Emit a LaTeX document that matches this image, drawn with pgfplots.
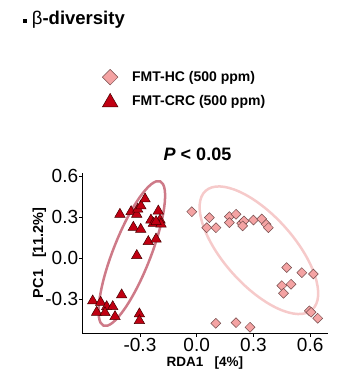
\documentclass[border=0pt]{standalone}
\usepackage{pgfplots}
\pgfplotsset{compat=1.18}
\usepackage{fontspec}
\setmainfont{Liberation Sans}
\definecolor{crcfill}{RGB}{192,0,18}
\definecolor{crcdraw}{RGB}{70,0,0}
\definecolor{hcfill}{RGB}{244,163,163}
\definecolor{hcdraw}{RGB}{115,75,75}
\definecolor{ellcrc}{RGB}{206,122,136}
\definecolor{ellhc}{RGB}{246,202,202}

\pgfplotsset{
  hcleg/.style={legend image code/.code={\path[draw=none,fill=none] (0pt,-3pt) rectangle (30pt,12pt); \draw[##1, mark size=5.5pt] plot coordinates {(8pt,4.5pt)};}},
  crcleg/.style={legend image code/.code={\path[draw=none,fill=none] (0pt,-3pt) rectangle (30pt,12pt); \draw[##1, mark size=9pt] plot coordinates {(8pt,3pt)};}},
}

\pgfplotstableread{
x y
-0.406 0.322
-0.347 0.341
-0.317 0.322
-0.312 0.359
-0.295 0.383
-0.273 0.434
-0.335 0.227
-0.296 0.212
-0.242 0.280
-0.229 0.256
-0.203 0.346
-0.194 0.280
-0.189 0.251
-0.215 0.268
-0.256 0.122
-0.215 0.141
-0.317 0.020
-0.397 -0.268
-0.550 -0.312
-0.508 -0.322
-0.529 -0.395
-0.476 -0.354
-0.444 -0.354
-0.485 -0.398
-0.432 -0.427
-0.303 -0.407
-0.303 -0.456
}\crc

\pgfplotstableread{
x y
-0.026 0.341
0.067 0.298
0.053 0.224
0.102 0.224
0.173 0.305
0.208 0.322
0.173 0.261
0.238 0.256
0.250 0.273
0.243 0.237
0.300 0.280
0.344 0.288
0.367 0.249
0.379 0.224
0.476 -0.068
0.556 -0.105
0.617 -0.115
0.450 -0.200
0.499 -0.190
0.459 -0.256
0.596 -0.385
0.605 -0.395
0.640 -0.439
0.101 -0.476
0.208 -0.471
0.282 -0.505
}\hc

\begin{document}
\begin{tikzpicture}
\path[use as bounding box] (0pt,0pt) rectangle (351pt,378pt);
% title
\fill (23.3pt,354.7pt) rectangle (26.7pt,358.7pt);
\node[anchor=base west, inner sep=0pt, font=\bfseries\fontsize{18.5}{20}\selectfont] at (31.7pt,353.7pt) {{\mdseries β}-diversity};
\node[anchor=base, inner sep=0pt, font=\bfseries\fontsize{18}{20}\selectfont] at (197.5pt,217.3pt) {\textit{P} < 0.05};
\node[anchor=base, inner sep=0pt, font=\bfseries\fontsize{13.5}{15}\selectfont] at (205pt,11.3pt) {RDA1\ \ \ [4\%]};
\node[anchor=base, rotate=90, inner sep=0pt, font=\bfseries\fontsize{14.5}{16}\selectfont] at (43pt,125pt) {PC1\ \ \ [11.2\%]};
\begin{axis}[
  at={(82.3pt,44pt)}, anchor=south west,
  width=246pt, height=160.7pt, scale only axis,
  xmin=-0.605, xmax=0.696, ymin=-0.554, ymax=0.622,
  axis x line*=bottom, axis y line*=left,
  axis line style={line width=1pt, black},
  xtick={-0.3,0,0.3,0.6}, ytick={-0.3,0,0.3,0.6},
  tick align=outside, major tick length=3pt,
  tick style={black, line width=0.8pt},
  ticklabel style={font=\fontsize{19}{19}\selectfont, inner sep=1pt},
  /pgf/number format/.cd, fixed, fixed zerofill, precision=1, assume math mode=true,
  /pgfplots/.cd,
  clip=false,
  legend style={at={(0.080,1.648)}, anchor=north west, draw=none, fill=none,
    font=\bfseries\fontsize{14}{16}\selectfont, row sep=8.5pt, inner sep=0pt,
    nodes={inner sep=0pt, anchor=base west}},
  legend cell align=left,
]
\draw[ellhc, line width=2.5pt, rotate around={-48.1:(axis cs:0.329,0.059)}] (axis cs:0.329,0.059) ellipse [x radius=79.8pt, y radius=34.9pt];
\draw[ellcrc, line width=2.5pt, rotate around={68.6:(axis cs:-0.343,0.035)}] (axis cs:-0.343,0.035) ellipse [x radius=77.5pt, y radius=18.8pt];

\addplot[only marks, mark=square*, mark size=3.5pt, mark options={rotate=45, fill=hcfill, draw=hcdraw, line width=0.5pt}, hcleg]
  table[x=x,y=y] {\hc};
\addlegendentry{FMT-HC (500 ppm)}
\addplot[only marks, mark=triangle*, mark size=6pt, mark options={fill=crcfill, draw=crcdraw, line width=0.5pt}, crcleg]
  table[x=x,y=y] {\crc};
\addlegendentry{FMT-CRC (500 ppm)}
\end{axis}
\end{tikzpicture}
\end{document}
